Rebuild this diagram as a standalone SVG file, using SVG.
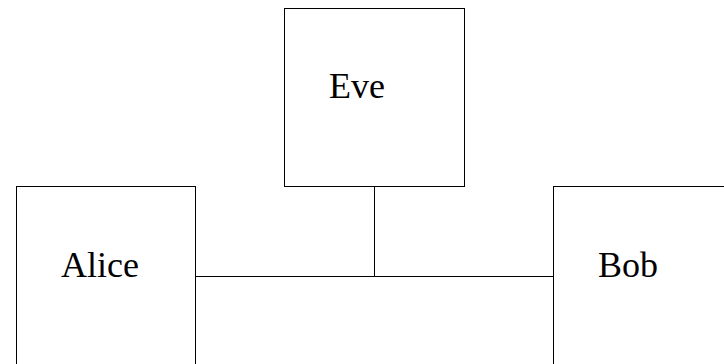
<svg xmlns="http://www.w3.org/2000/svg" width="724" height="364" viewBox="0 0 724 364">
<style>
.box{fill:#fff;stroke:#000;stroke-width:1}
.lbl{font-family:"Liberation Serif",serif;font-size:36px;fill:#000}
.conn{stroke:#000;stroke-width:1;fill:none}
</style>
<rect width="724" height="364" fill="#fff"/>
<g id="connectors">
<path class="conn" d="M195.5 276.5 H553.5"/>
<path class="conn" d="M374.5 186.5 V276.5"/>
</g>
<g id="eve">
<rect class="box" x="284.5" y="8.5" width="180" height="178"/>
<text class="lbl" x="329" y="98">Eve</text>
</g>
<g id="alice">
<rect class="box" x="16.5" y="186.5" width="179" height="200"/>
<text class="lbl" x="61" y="277">Alice</text>
</g>
<g id="bob">
<rect class="box" x="553.5" y="186.5" width="200" height="200"/>
<text class="lbl" x="598" y="277">Bob</text>
</g>
</svg>
